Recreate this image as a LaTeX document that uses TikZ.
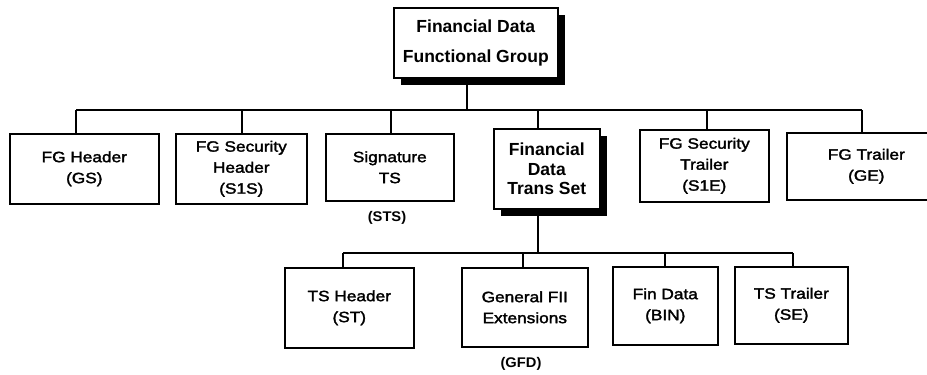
\documentclass[tikz,border=0pt]{standalone}
\usepackage{fontspec}
\setmainfont{Liberation Sans}
\newfontfamily\plainlbl{Liberation Sans}[FakeStretch=1.15,FakeBold=2]
\newfontfamily\taglbl{Liberation Sans Bold}[FakeStretch=1.05]
\usetikzlibrary{shadows}

\tikzset{
  box/.style={draw, line width=1.6pt, inner sep=0pt, anchor=north west, align=center,
    font=\plainlbl\fontsize{15}{21}\selectfont},
  heavybox/.style={box, fill=white,
    drop shadow={shadow xshift=7pt, shadow yshift=-7pt, fill=black, opacity=1},
    font=\bfseries\fontsize{17.5}{19.5}\selectfont},
  link/.style={line width=1.3pt},
  tag/.style={inner sep=0pt, font=\taglbl\fontsize{14}{16}\selectfont}
}

\begin{document}
\begin{tikzpicture}[x=1pt, y=-1pt]
\useasboundingbox (0,0) rectangle (927,375);
\clip (0,0) rectangle (927,375);

% root of the tree
\node[heavybox, minimum width=164pt, minimum height=70pt,
      font=\bfseries\fontsize{17.5}{30}\selectfont] (root) at (393,7)
  {Financial Data\\Functional Group};

% functional group members
\node[box, minimum width=149pt, minimum height=70pt] (gs)  at (9,133)   {FG Header\\(GS)};
\node[box, minimum width=131pt, minimum height=70pt] (s1s) at (175,133) {FG Security\\Header\\(S1S)};
\node[box, minimum width=128pt, minimum height=67pt] (sts) at (325,133) {Signature\\TS};
\node[heavybox, minimum width=106pt, minimum height=80pt] (ts) at (493,128) {Financial\\Data\\Trans Set};
\node[box, minimum width=129pt, minimum height=72pt] (s1e) at (639,129) {FG Security\\Trailer\\(S1E)};
\node[box, minimum width=159pt, minimum height=67pt] (ge)  at (786,132) {FG Trailer\\(GE)};

\node[tag] (ststag) at (387,218) {(STS)};

% transaction set members
\node[box, minimum width=129pt, minimum height=80pt] (st)  at (284,267) {TS Header\\(ST)};
\node[box, minimum width=126pt, minimum height=79pt] (gfd) at (461,267) {General FII\\Extensions};
\node[box, minimum width=105pt, minimum height=78pt] (bin) at (612,266) {Fin Data\\(BIN)};
\node[box, minimum width=113pt, minimum height=77pt] (se)  at (734,266) {TS Trailer\\(SE)};

\node[tag] (gfdtag) at (521,364) {(GFD)};

% upper bus
\coordinate (rootfoot) at (467,110);
\coordinate (u1) at (76,110);
\coordinate (u2) at (242,110);
\coordinate (u3) at (391,110);
\coordinate (u4) at (538,110);
\coordinate (u5) at (707,110);
\coordinate (u6) at (862,110);
\draw[link] (rootfoot |- root.south) -- (rootfoot);
\draw[link] (u1) -- (u6);
\draw[link] (u1) -- (u1 |- gs.north);
\draw[link] (u2) -- (u2 |- s1s.north);
\draw[link] (u3) -- (u3 |- sts.north);
\draw[link] (u4) -- (u4 |- ts.north);
\draw[link] (u5) -- (u5 |- s1e.north);
\draw[link] (u6) -- (u6 |- ge.north);

% lower bus
\coordinate (tsfoot) at (538,253);
\coordinate (l1) at (343,253);
\coordinate (l2) at (523,253);
\coordinate (l3) at (665,253);
\coordinate (l4) at (793,253);
\draw[link] (tsfoot |- ts.south) -- (tsfoot);
\draw[link] (l1) -- (l4);
\draw[link] (l1) -- (l1 |- st.north);
\draw[link] (l2) -- (l2 |- gfd.north);
\draw[link] (l3) -- (l3 |- bin.north);
\draw[link] (l4) -- (l4 |- se.north);
\end{tikzpicture}
\end{document}
